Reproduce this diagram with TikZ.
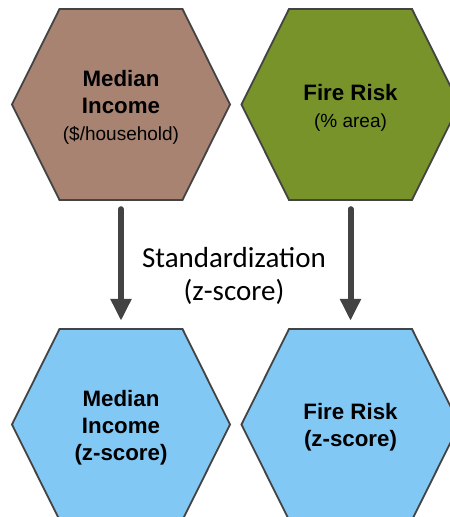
\documentclass[tikz,border=0pt]{standalone}
\usepackage{fontspec}
\setmainfont{Liberation Sans}
\newfontfamily\calibrifont{Carlito}
\usetikzlibrary{arrows.meta}

\definecolor{incomebrown}{HTML}{A88372}
\definecolor{firegreen}{HTML}{77932A}
\definecolor{zblue}{HTML}{82C8F5}
\definecolor{edgegray}{HTML}{434343}

\newcommand{\subunit}[1]{{\normalfont\fontsize{19}{25}\selectfont #1}}

\begin{document}
\begin{tikzpicture}[
    x=1pt, y=1pt,
    hexnode/.style={minimum width=222pt, minimum height=203pt, inner sep=0pt, align=center,
      path picture={\draw[line width=1.8pt, draw=edgegray, fill=#1]
        (path picture bounding box.center) ++(-109pt,3pt) -- ++(47.5pt,95.5pt) -- ++(123pt,0pt)
        -- ++(47.5pt,-95.5pt) -- ++(-47.5pt,-95.5pt) -- ++(-123pt,0pt) -- cycle;}},
    title/.style={font=\bfseries\fontsize{22.3}{27}\selectfont},
    flow/.style={draw=edgegray, line width=6pt, line cap=round,
      -{Triangle[width=20pt,length=22pt]}, shorten <=0pt, shorten >=5pt}
   ]
   \clip (0,0) rectangle (450,517);
   % raw data
   \node[hexnode=incomebrown, title] (income) at (121,409.5) {Median\\Income\\\subunit{(\$/household)}};
   \node[hexnode=firegreen, title] (fire) at (350.5,409.5) {Fire Risk\\\subunit{(\% area)}};
   % standardized
   \node[hexnode=zblue, title] (incomez) at (121,89.5) {Median\\Income\\(z-score)};
   \node[hexnode=zblue, title] (firez) at (350.5,89.5) {Fire Risk\\(z-score)};
   \node[font=\calibrifont\fontsize{29}{33}\selectfont, align=center] (std) at (234,241.5) {Standardization\\(z-score)};
   \draw[flow] (income) -- (incomez);
   \draw[flow] (fire) -- (firez);
  \end{tikzpicture}
\end{document}
